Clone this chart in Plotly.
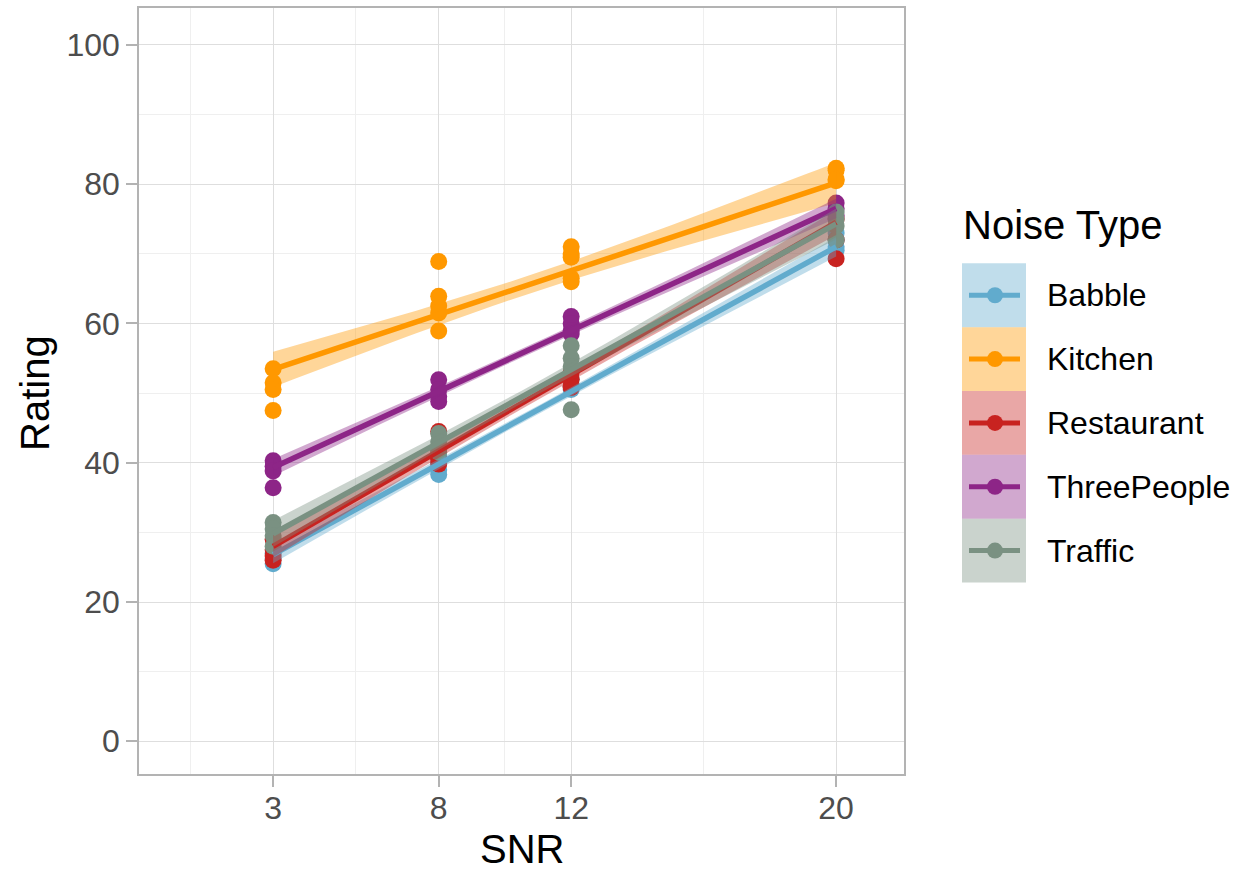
import numpy as np
import plotly.graph_objects as go

# ---------------- data ----------------
snr_levels = [3, 8, 12, 20]
noise_types = ["Babble", "Kitchen", "Restaurant", "ThreePeople", "Traffic"]

babble_pts = {3: [27.0, 26.2, 25.5], 8: [41.0, 40.0, 39.0, 38.3],
              12: [52.0, 51.0, 50.5], 20: [73.0, 72.0, 71.0, 70.5]}
kitchen_pts = {3: [53.5, 51.5, 50.5, 47.5], 8: [68.9, 63.9, 62.5, 61.5, 58.9],
               12: [71.0, 70.0, 69.5, 66.5, 66.0], 20: [82.3, 82.0, 80.7, 80.5]}
restaurant_pts = {3: [29.0, 27.5, 26.6, 26.0], 8: [44.5, 42.0, 40.5, 39.8],
                  12: [53.0, 52.0, 51.0, 50.8], 20: [75.0, 72.0, 69.3]}
threepeople_pts = {3: [40.3, 39.5, 38.8, 36.4], 8: [51.9, 50.5, 49.5, 48.8],
                   12: [61.0, 60.0, 59.0, 58.5], 20: [77.3, 76.5, 75.5]}
traffic_pts = {3: [31.4, 30.5, 29.5, 28.0], 8: [44.2, 43.0, 42.0, 41.5],
               12: [56.8, 55.0, 53.8, 47.6], 20: [76.0, 75.0, 74.0, 72.0]}

# fitted line values at SNR 3 and SNR 20
fit_at_3 = [26.8, 53.4, 28.0, 39.3, 29.8]
fit_at_20 = [71.0, 80.2, 74.5, 76.5, 74.3]
# confidence band half-width at the centre and at SNR 20
band_centre = [0.6, 1.3, 0.8, 0.6, 0.9]
band_end = [1.4, 2.9, 1.8, 1.4, 2.2]

colors = ["#61abcd", "#ff9800", "#c82320", "#8d2587", "#7a9182"]
band_alpha = 0.4

y_ticks = [0, 20, 40, 60, 80, 100]
x_ticks = [3, 8, 12, 20]

all_pts = [babble_pts, kitchen_pts, restaurant_pts, threepeople_pts, traffic_pts]

# ---------------- helpers ----------------
W, H = 1238, 873
L, R, T, B = 139, 904, 6, 774


def hex_rgba(h, a):
    h = h.lstrip("#")
    return "rgba(%d,%d,%d,%.2f)" % (int(h[0:2], 16), int(h[2:4], 16), int(h[4:6], 16), a)


def pxx(p):
    return (p - L) / (R - L)


def pxy(p):
    return (B - p) / (B - T)


fig = go.Figure()

# points
for name, pts, col in zip(noise_types, all_pts, colors):
    xs, ys = [], []
    for s in snr_levels:
        for v in pts[s]:
            xs.append(s)
            ys.append(v)
    fig.add_trace(go.Scatter(x=xs, y=ys, mode="markers", name=name,
                             marker=dict(size=17, color=col, line=dict(width=0)),
                             showlegend=False, hoverinfo="skip"))

# smooth lines + bands
xc = np.mean(snr_levels)
xline = np.linspace(3, 20, 60)
for i, name in enumerate(noise_types):
    slope = (fit_at_20[i] - fit_at_3[i]) / (20 - 3)
    yfit = fit_at_3[i] + slope * (xline - 3)
    k = (band_end[i] ** 2 - band_centre[i] ** 2) / (20 - xc) ** 2
    hw = np.sqrt(band_centre[i] ** 2 + k * (xline - xc) ** 2)
    fig.add_trace(go.Scatter(x=np.concatenate([xline, xline[::-1]]),
                             y=np.concatenate([yfit + hw, (yfit - hw)[::-1]]),
                             fill="toself", fillcolor=hex_rgba(colors[i], band_alpha),
                             line=dict(width=0), mode="lines", showlegend=False,
                             hoverinfo="skip"))
    fig.add_trace(go.Scatter(x=xline, y=yfit, mode="lines",
                             line=dict(color=colors[i], width=5.5),
                             showlegend=False, hoverinfo="skip"))

# ---------------- custom legend ----------------
shapes = []
annotations = []
annotations.append(dict(x=pxx(961), y=pxy(224), xref="paper", yref="paper",
                        text="Noise Type", showarrow=False, xanchor="left",
                        yanchor="middle", font=dict(size=40, color="#000000")))
key_top = 262
key_h = 64
for i, name in enumerate(noise_types):
    y0 = key_top + i * key_h
    y1 = y0 + key_h
    yc = (y0 + y1) / 2
    shapes.append(dict(type="rect", xref="paper", yref="paper",
                       x0=pxx(962), x1=pxx(1026), y0=pxy(y1), y1=pxy(y0),
                       fillcolor=hex_rgba(colors[i], band_alpha), line=dict(width=0)))
    shapes.append(dict(type="line", xref="paper", yref="paper",
                       x0=pxx(969), x1=pxx(1020), y0=pxy(yc), y1=pxy(yc),
                       line=dict(color=colors[i], width=5)))
    shapes.append(dict(type="circle", xref="paper", yref="paper",
                       x0=pxx(987), x1=pxx(1003), y0=pxy(yc + 8), y1=pxy(yc - 8),
                       fillcolor=colors[i], line=dict(width=0)))
    annotations.append(dict(x=pxx(1045), y=pxy(yc), xref="paper", yref="paper",
                            text=name, showarrow=False, xanchor="left",
                            yanchor="middle", font=dict(size=32, color="#000000")))

# axis titles
annotations.append(dict(x=pxx(521.5), y=pxy(849), xref="paper", yref="paper",
                        text="SNR", showarrow=False, xanchor="center", yanchor="middle",
                        borderpad=0, font=dict(size=40, color="#000000")))
annotations.append(dict(x=pxx(35), y=pxy(392), xref="paper", yref="paper",
                        text="Rating", showarrow=False, xanchor="center", yanchor="middle",
                        textangle=-90, font=dict(size=40, color="#000000")))

axis_common = dict(showline=True, mirror=True, linecolor="#b3b3b3", linewidth=1.5,
                   ticks="outside", ticklen=11, tickcolor="#b3b3b3", tickwidth=1.5,
                   gridcolor="#dedede", gridwidth=1.2, zeroline=False,
                   tickfont=dict(size=32, color="#4d4d4d"))

fig.update_layout(
    width=W, height=H,
    margin=dict(l=L, r=W - R, t=T, b=H - B),
    paper_bgcolor="white", plot_bgcolor="white",
    font=dict(family="Liberation Sans, Arial, sans-serif"),
    xaxis=dict(range=[-1.05, 22.05], tickmode="array", tickvals=x_ticks,
               ticktext=[str(v) for v in x_ticks], ticklabelstandoff=-6,
               minor=dict(tickmode="array", tickvals=[0.5, 5.5, 10, 16],
                          showgrid=True, gridcolor="#efefef", gridwidth=1, ticks=""),
               **axis_common),
    yaxis=dict(range=[-4.7, 105.3], tickmode="array", tickvals=y_ticks,
               ticktext=[str(v) for v in y_ticks], ticklabelstandoff=0,
               minor=dict(tickmode="array", tickvals=[10, 30, 50, 70, 90],
                          showgrid=True, gridcolor="#efefef", gridwidth=1, ticks=""),
               **axis_common),
    shapes=shapes, annotations=annotations, showlegend=False,
)

fig.write_html("out.html")
